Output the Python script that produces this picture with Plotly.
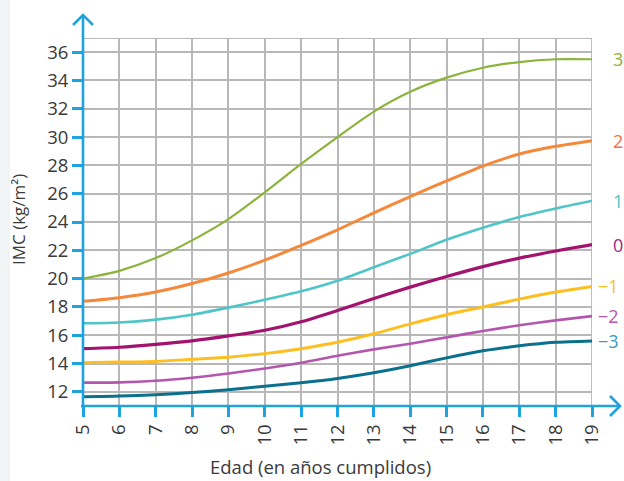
import plotly.graph_objects as go

# Edad (años cumplidos)
ages = [5, 6, 7, 8, 9, 10, 11, 12, 13, 14, 15, 16, 17, 18, 19]

# IMC por puntuación z
imc_p3 = [20.0, 20.55, 21.45, 22.7, 24.2, 26.1, 28.1, 30.0, 31.8, 33.2, 34.2, 34.9, 35.3, 35.5, 35.5]
imc_p2 = [18.4, 18.65, 19.05, 19.65, 20.4, 21.3, 22.35, 23.45, 24.65, 25.8, 26.9, 27.95, 28.8, 29.35, 29.75]
imc_p1 = [16.85, 16.9, 17.1, 17.45, 17.95, 18.5, 19.1, 19.85, 20.8, 21.75, 22.75, 23.6, 24.35, 24.95, 25.5]
imc_0 = [15.05, 15.15, 15.35, 15.6, 15.95, 16.35, 16.95, 17.75, 18.6, 19.4, 20.15, 20.85, 21.45, 21.95, 22.4]
imc_m1 = [14.05, 14.1, 14.15, 14.3, 14.45, 14.7, 15.05, 15.5, 16.1, 16.8, 17.45, 18.0, 18.55, 19.05, 19.45]
imc_m2 = [12.65, 12.67, 12.78, 13.0, 13.3, 13.65, 14.05, 14.55, 15.0, 15.4, 15.85, 16.3, 16.7, 17.05, 17.35]
imc_m3 = [11.65, 11.7, 11.8, 11.95, 12.15, 12.4, 12.65, 12.95, 13.35, 13.85, 14.4, 14.9, 15.25, 15.5, 15.6]

curve_labels = ["3", "2", "1", "0", "\u22121", "\u22122", "\u22123"]
curve_values = [imc_p3, imc_p2, imc_p1, imc_0, imc_m1, imc_m2, imc_m3]
curve_colors = ["#8cb43c", "#f6883a", "#4fc5c8", "#a3126f", "#fdbf1f", "#b456ad", "#0b6f8e"]
label_colors = ["#8cb43c", "#f0704a", "#4fc5c8", "#9a2a86", "#fdbf1f", "#b456ad", "#3a9bb3"]
curve_widths = [2.2, 3, 2.6, 3.2, 3, 2.6, 3]

y_ticks = list(range(12, 37, 2))

AXIS_BLUE = "#1fa3de"
GRID = "#b8b8b8"
TEXT = "#3a3a3a"
FONT = "Open Sans"

# plot area in pixels
L, R, T, B = 83, 32, 38, 75
W, H = 624, 481
PW, PH = W - L - R, H - T - B


def px(dx):
    return dx / PW


def py(dy):
    return dy / PH


fig = go.Figure()
for name, vals, col, lw in zip(curve_labels, curve_values, curve_colors, curve_widths):
    fig.add_trace(go.Scatter(
        x=ages, y=vals, mode="lines", name=name,
        line=dict(color=col, width=lw, shape="spline", smoothing=0.7),
        showlegend=False, hoverinfo="skip",
    ))

shapes = []
# left pale strip
shapes.append(dict(type="rect", xref="paper", yref="paper", x0=px(-L), x1=px(-L + 10),
                   y0=py(-B), y1=py(PH + T), fillcolor="#f1f4f5", line=dict(width=0), layer="below"))
# top and right border of the grid
shapes.append(dict(type="line", xref="paper", yref="y", x0=0, x1=1, y0=37, y1=37,
                   line=dict(color=GRID, width=1.8), layer="below"))
shapes.append(dict(type="line", xref="x", yref="paper", x0=19, x1=19, y0=0, y1=1,
                   line=dict(color=GRID, width=1.8), layer="below"))
# axes with arrow heads
x_tip = px(620 - L)
y_tip = py(406 - 15)
shapes.append(dict(type="line", xref="paper", yref="paper", x0=px(-2), x1=x_tip, y0=0, y1=0,
                   line=dict(color=AXIS_BLUE, width=2.6)))
shapes.append(dict(type="line", xref="paper", yref="paper", x0=0, x1=0, y0=py(-2), y1=y_tip,
                   line=dict(color=AXIS_BLUE, width=2.6)))
shapes.append(dict(type="path", xref="paper", yref="paper",
                   path=f"M {x_tip - px(10)},{py(10)} L {x_tip},0 L {x_tip - px(10)},{py(-10)}",
                   line=dict(color=AXIS_BLUE, width=2.6)))
shapes.append(dict(type="path", xref="paper", yref="paper",
                   path=f"M {px(-10)},{y_tip - py(10)} L 0,{y_tip} L {px(10)},{y_tip - py(10)}",
                   line=dict(color=AXIS_BLUE, width=2.6)))

annotations = []
for name, vals, col in zip(curve_labels, curve_values, label_colors):
    neg = name.startswith("\u2212")
    annotations.append(dict(
        x=19, y=vals[-1], xref="x", yref="y", text=name, showarrow=False,
        xanchor="left", yanchor="middle", xshift=4 if neg else 19,
        font=dict(family=FONT, size=18, color=col),
    ))
annotations.append(dict(
    x=px(320 - L), y=py(406 - 467), xref="paper", yref="paper",
    text="Edad (en años cumplidos)", showarrow=False, xanchor="center", yanchor="middle",
    font=dict(family=FONT, size=18.5, color=TEXT),
))
annotations.append(dict(
    x=px(18 - L), y=py(406 - 220), xref="paper", yref="paper",
    text="IMC (kg/m\u00b2)", showarrow=False, textangle=-90, xanchor="center", yanchor="middle",
    font=dict(family=FONT, size=17, color=TEXT),
))

fig.update_layout(
    width=W, height=H,
    margin=dict(l=L, r=R, t=T, b=B, pad=0),
    paper_bgcolor="white", plot_bgcolor="white",
    shapes=shapes, annotations=annotations,
    xaxis=dict(
        range=[5, 19], tickvals=ages, tickangle=-90,
        showgrid=True, gridcolor=GRID, gridwidth=1.8,
        zeroline=False, showline=False,
        ticks="outside", ticklen=10, tickwidth=2.6, tickcolor=AXIS_BLUE,
        tickfont=dict(family=FONT, size=18.5, color=TEXT),
    ),
    yaxis=dict(
        range=[11, 37], tickvals=y_ticks,
        showgrid=True, gridcolor=GRID, gridwidth=1.8,
        zeroline=False, showline=False,
        ticks="outside", ticklen=10, tickwidth=2.6, tickcolor=AXIS_BLUE,
        tickfont=dict(family=FONT, size=18.5, color=TEXT),
    ),
)

fig.write_html("out.html")
